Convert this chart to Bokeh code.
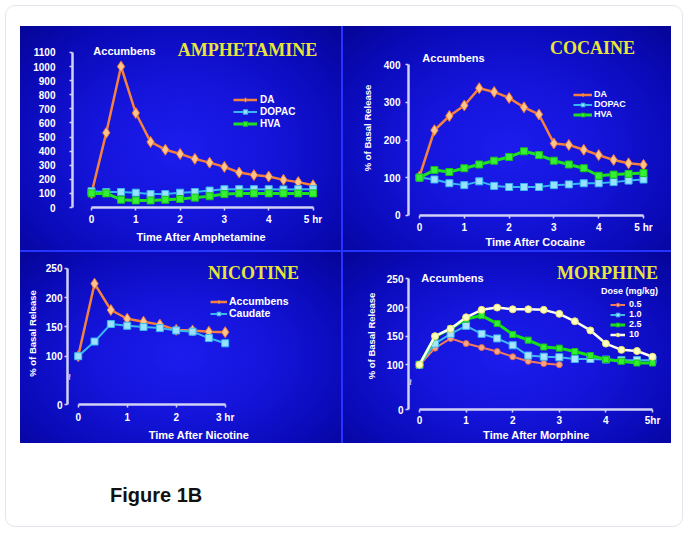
import math
from bokeh.plotting import figure
from bokeh.models import Label, Legend, LegendItem, FixedTicker, Div, Range1d
from bokeh.layouts import row, column
from bokeh.embed import file_html
from bokeh.resources import INLINE

# ---------------- data ----------------
t16 = [0, 1/3, 2/3, 1, 4/3, 5/3, 2, 7/3, 8/3, 3, 10/3, 11/3, 4, 13/3, 14/3, 5]

amph_time = t16
amph_da = [100, 530, 1000, 670, 465, 410, 380, 345, 318, 288, 248, 230, 220, 196, 180, 158]
amph_dopac = [115, 110, 110, 105, 95, 95, 105, 110, 120, 130, 130, 130, 130, 128, 130, 130]
amph_hva = [100, 100, 55, 50, 50, 55, 60, 70, 80, 95, 100, 100, 100, 100, 100, 100]

coc_time = t16
coc_da = [103, 226, 264, 292, 338, 328, 312, 287, 268, 191, 187, 174, 160, 147, 138, 134]
coc_dopac = [100, 95, 85, 80, 90, 78, 75, 75, 75, 80, 82, 85, 85, 88, 92, 95]
coc_hva = [100, 120, 115, 125, 135, 145, 155, 170, 160, 145, 135, 125, 105, 108, 110, 112]

nic_time = [0, 1/3, 2/3, 1, 4/3, 5/3, 2, 7/3, 8/3, 3]
nic_acc = [100, 224, 179, 164, 159, 154, 145, 144, 142, 141]
nic_caud = [100, 125, 155, 152, 150, 148, 144, 142, 131, 122]

mor_time = t16
mor_time_05 = t16[:10]
mor_05 = [100, 129, 146, 137, 130, 123, 114, 106, 102, 100]
mor_10 = [100, 137, 154, 168, 154, 146, 134, 116, 114, 113, 110, 110, 109, 108, 108, 108]
mor_25 = [100, 149, 163, 180, 186, 172, 153, 143, 131, 129, 123, 116, 109, 106, 103, 103]
mor_100 = [100, 150, 163, 183, 196, 200, 197, 197, 196, 189, 176, 160, 137, 126, 124, 114]

amph_yticks = [0, 100, 200, 300, 400, 500, 600, 700, 800, 900, 1000, 1100]
coc_yticks = [0, 100, 200, 300, 400]
broken_yticks = [100, 150, 200, 250]
xticks5 = [0, 1, 2, 3, 4, 5]
xticks3 = [0, 1, 2, 3]

# ---------------- styles ----------------
SANS = "Liberation Sans"
SERIF = "Liberation Serif"
AXIS_COL = "#d2d2f6"
TITLE_COL = "#e8e43a"
BG = ("radial-gradient(ellipse at 50% 55%, #1c1cee 0%, #1414da 40%, "
      "#0a0ab8 75%, #050596 100%)")

DA = dict(line="#f5813f", fill="#ffc48a", edge="#e8703a", marker="diamond", size=11, lw=2.5)
DOPAC = dict(line="#38b8f0", fill="#9ae0ff", edge="#38b8f0", marker="square", size=7, lw=2)
HVA = dict(line="#20e020", fill="#36f036", edge="#18c018", marker="square", size=7, lw=3)
M05 = dict(line="#f07a5c", fill="#f8a486", edge="#e06a4c", marker="circle", size=6, lw=2)
M10 = dict(line="#40b8f0", fill="#a8e4ff", edge="#40b8f0", marker="square", size=7, lw=2)
M25 = dict(line="#18e018", fill="#30f030", edge="#18c018", marker="square", size=6, lw=3)
M100 = dict(line="#fffff0", fill="#ffffc0", edge="#e8e070", marker="circle", size=7, lw=2.5)


def make_panel(W, H, FL, FR, FT, FB, x0_px, px_hr, yref_px, yref_val, px_unit):
    xs = (FL - x0_px) / px_hr
    xe = (FR - x0_px) / px_hr
    ys = round(yref_val - (FB - yref_px) / px_unit, 1)
    ye = yref_val + (yref_px - FT) / px_unit
    p = figure(width=W, height=H, x_range=Range1d(xs, xe), y_range=Range1d(ys, ye),
               min_border_left=FL, min_border_right=W - FR,
               min_border_top=FT, min_border_bottom=H - FB,
               output_backend="svg", toolbar_location=None)
    p.border_fill_alpha = 0
    p.background_fill_alpha = 0
    p.outline_line_color = None
    p.grid.visible = False
    p.styles = {"background": BG}

    def to_data(px, py):
        return xs + (px - FL) / px_hr, ys + (FB - py) / px_unit
    return p, to_data, xs, ys


def style_axes(p, xticks, xover, xbounds, xlabel, xls, xals,
               yticks, yover, ybounds, ylabel, yls, yals):
    xa, ya = p.xaxis[0], p.yaxis[0]
    for ax in (xa, ya):
        ax.axis_line_color = AXIS_COL
        ax.axis_line_width = 2.5
        ax.major_tick_line_color = AXIS_COL
        ax.major_tick_line_width = 1.5
        ax.major_tick_out = 3
        ax.major_tick_in = 0
        ax.minor_tick_line_color = None
        ax.major_label_text_color = "white"
        ax.major_label_text_font = SANS
        ax.major_label_text_font_style = "bold"
        ax.major_label_text_font_size = "10px"
        ax.axis_label_text_color = "white"
        ax.axis_label_text_font = SANS
        ax.axis_label_text_font_style = "bold"
    xa.ticker = FixedTicker(ticks=xticks)
    xa.major_label_overrides = xover
    xa.bounds = xbounds
    xa.axis_label = xlabel
    xa.axis_label_text_font_size = "11px"
    xa.major_label_standoff = xls
    xa.axis_label_standoff = xals
    ya.ticker = FixedTicker(ticks=yticks)
    ya.major_label_overrides = yover
    ya.bounds = ybounds
    ya.axis_label = ylabel
    ya.axis_label_text_font_size = "9.5px"
    ya.major_label_standoff = yls
    ya.axis_label_standoff = yals


def series(p, x, y, st, label):
    r1 = p.line(x, y, line_color=st["line"], line_width=st["lw"])
    r2 = p.scatter(x, y, marker=st["marker"], size=st["size"],
                   fill_color=st["fill"], line_color=st["edge"], line_width=1)
    return LegendItem(label=label, renderers=[r1, r2])


def add_legend(p, items, loc, fs, lh, gw, standoff, spacing=1):
    lg = Legend(items=items, location=loc, margin=0, padding=0, spacing=spacing,
                background_fill_alpha=0, border_line_alpha=0,
                label_text_color="white", label_text_font=SANS,
                label_text_font_style="bold", label_text_font_size=fs,
                label_height=lh, glyph_height=lh, glyph_width=gw,
                label_standoff=standoff)
    p.add_layout(lg)


def add_text(p, conv, px, py, text, font, size, color, style="bold", angle=0.0):
    x, y = conv(px, py)
    p.add_layout(Label(x=x, y=y, text=text, text_font=font, text_font_size=size,
                       text_color=color, text_font_style=style, text_align="center",
                       text_baseline="middle", angle=angle))


# ---------------- Amphetamine ----------------
pA, cA, xsA, ysA = make_panel(321, 224, 52, 310, 14, 181, 71, 44.3, 181, 0, 0.141)
style_axes(pA, xticks5, {5: "5 hr"}, (0, 5), "Time After Amphetamine", 3, 3,
           amph_yticks, {}, (0, 1100), "", 14, 0)
itA = [series(pA, amph_time, amph_da, DA, "DA"),
       series(pA, amph_time, amph_dopac, DOPAC, "DOPAC"),
       series(pA, amph_time, amph_hva, HVA, "HVA")]
add_legend(pA, itA, (161, 78), "10px", 11, 24, 3)
add_text(pA, cA, 227, 23, "AMPHETAMINE", SERIF, "18px", TITLE_COL)
add_text(pA, cA, 104, 24, "Accumbens", SANS, "11px", "white")

# ---------------- Cocaine ----------------
pB, cB, xsB, ysB = make_panel(328, 224, 65, 319, 14, 190, 76, 44.8, 189.7, 0, 0.378)
style_axes(pB, xticks5, {5: "5 hr"}, (0, 5), "Time After Cocaine", 3, 0,
           coc_yticks, {}, (0, 400), "% of Basal Release", 5, 8)
itB = [series(pB, coc_time, coc_da, DA, "DA"),
       series(pB, coc_time, coc_dopac, DOPAC, "DOPAC"),
       series(pB, coc_time, coc_hva, HVA, "HVA")]
add_legend(pB, itB, (165, 96), "9px", 9, 19, 2, -1)
add_text(pB, cB, 249, 22, "COCAINE", SERIF, "18px", TITLE_COL)
add_text(pB, cB, 110, 32, "Accumbens", SANS, "11px", "white")

# ---------------- Nicotine ----------------
pC, cC, xsC, ysC = make_panel(321, 191, 47, 310, 10, 154, 57.7, 49, 105, 100, 0.593)
style_axes(pC, xticks3, {3: "3 hr"}, (0, 3), "Time After Nicotine", 4, 3,
           [ysC] + broken_yticks, {ysC: "0"}, (ysC, 250), "% of Basal Release", 2, 5)
itC = [series(pC, nic_time, nic_acc, DA, "Accumbens"),
       series(pC, nic_time, nic_caud, DOPAC, "Caudate")]
add_legend(pC, itC, (143, 85), "10.5px", 9, 17, 2, -1)
add_text(pC, cC, 233, 21, "NICOTINE", SERIF, "18px", TITLE_COL)
add_text(pC, cC, 47, 126, "≈", SANS, "11px", AXIS_COL, "bold", math.pi / 2)

# ---------------- Morphine ----------------
pD, cD, xsD, ysD = make_panel(328, 191, 65, 321, 10, 161, 76, 46.6, 115, 100, 0.587)
style_axes(pD, xticks5, {5: "5hr"}, (0, 5), "Time After Morphine", 2, 0,
           [ysD] + broken_yticks, {ysD: "0"}, (ysD, 250), "% of Basal Release", 2, 7)
itD = [series(pD, mor_time_05, mor_05, M05, "0.5"),
       series(pD, mor_time, mor_10, M10, "1.0"),
       series(pD, mor_time, mor_25, M25, "2.5"),
       series(pD, mor_time, mor_100, M100, "10")]
add_legend(pD, itD, (202, 70), "9px", 9, 15, 4, -1)
add_text(pD, cD, 264, 21, "MORPHINE", SERIF, "18px", TITLE_COL)
add_text(pD, cD, 109, 26, "Accumbens", SANS, "11px", "white")
add_text(pD, cD, 286, 39, "Dose (mg/kg)", SANS, "9px", "white")
add_text(pD, cD, 65, 133, "≈", SANS, "11px", AXIS_COL, "bold", math.pi / 2)

# ---------------- layout ----------------
top = row(column(pA), column(pB), spacing=2)
bot = row(column(pC), column(pD), spacing=2)
grid = column(top, bot, spacing=2, margin=(20, 11, 0, 14),
              styles={"background-color": "#2535ff"})
caption = Div(text="Figure 1B", width=200, height=23, margin=(41, 0, 19, 104),
              styles={"font-family": SANS, "font-weight": "bold", "font-size": "20px",
                      "color": "#111111", "line-height": "23px"})
page = column(grid, caption, margin=(5, 0, 0, 5),
              styles={"border": "1px solid #e4e4ec", "border-radius": "10px",
                      "background-color": "white"})

open("out.html", "w").write(file_html(page, INLINE))
